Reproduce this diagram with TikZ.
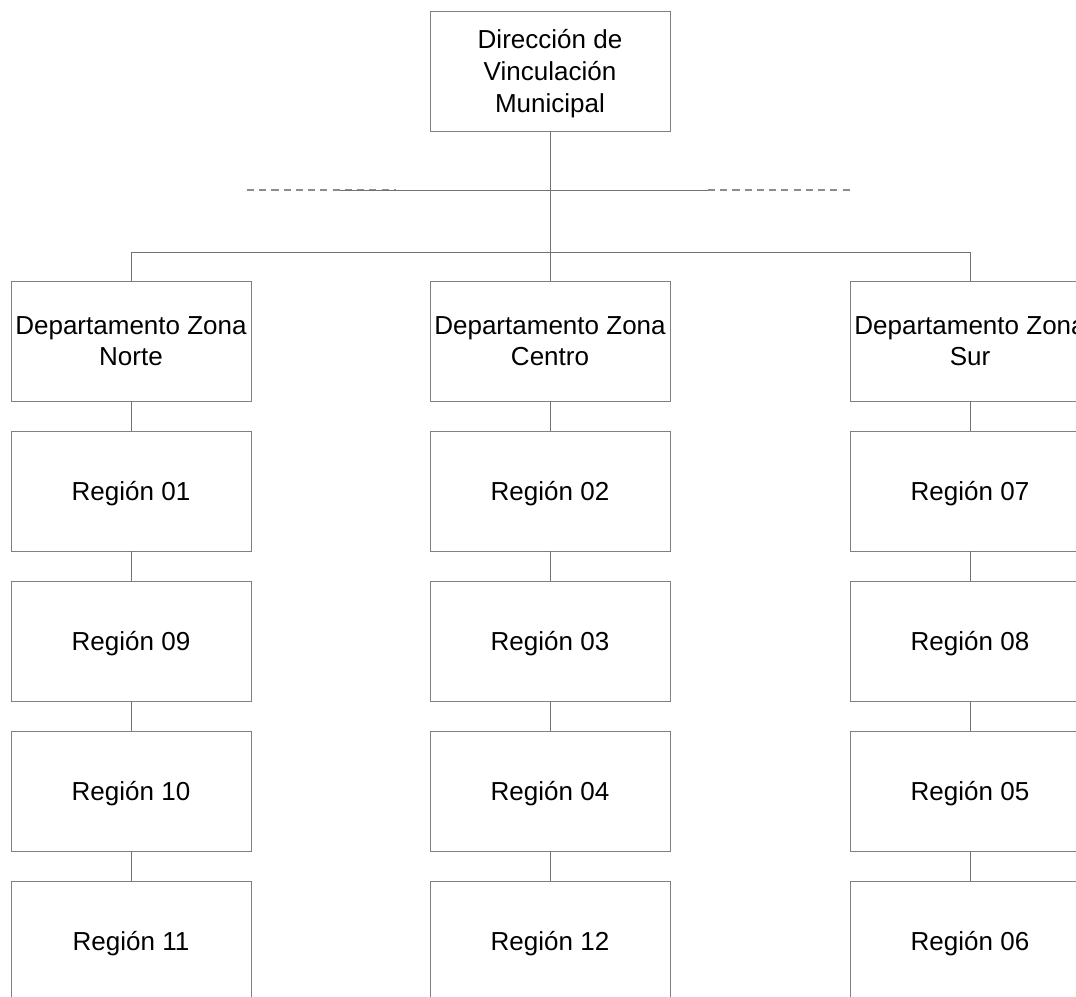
\documentclass[tikz,border=0pt]{standalone}
\usepackage{fontspec}
\setmainfont{Liberation Sans}
\begin{document}
\begin{tikzpicture}[
    x=0.025cm,y=-0.025cm,
    orgBox/.style={rectangle,draw=black!50,line width=0.6pt,minimum width=6cm,minimum height=3cm,
        inner xsep=0pt,text depth=0pt,align=center,font=\fontsize{18.5}{22.5}\selectfont},
    orgLine/.style={draw=black!55,line width=0.6pt},
    orgDash/.style={draw=black!45,line width=0.8pt,dash pattern=on 5pt off 3.7pt},
]
\useasboundingbox (0,0) rectangle (1076,996);
\clip (0,0) rectangle (1076,996);
% direccion
\node[orgBox] (dir) at (550,71) {Dirección de\\Vinculación\\Municipal};
% departamentos
\node[orgBox] (dNorte) at (131,341) {Departamento Zona\\Norte};
\node[orgBox] (dCentro) at (550,341) {Departamento Zona\\Centro};
\node[orgBox] (dSur) at (970,341) {Departamento Zona\\Sur};
% regiones
\node[orgBox] (r01) at (131,491) {Región 01};
\node[orgBox] (r09) at (131,641) {Región 09};
\node[orgBox] (r10) at (131,791) {Región 10};
\node[orgBox] (r11) at (131,941) {Región 11};
\node[orgBox] (r02) at (550,491) {Región 02};
\node[orgBox] (r03) at (550,641) {Región 03};
\node[orgBox] (r04) at (550,791) {Región 04};
\node[orgBox] (r12) at (550,941) {Región 12};
\node[orgBox] (r07) at (970,491) {Región 07};
\node[orgBox] (r08) at (970,641) {Región 08};
\node[orgBox] (r05) at (970,791) {Región 05};
\node[orgBox] (r06) at (970,941) {Región 06};
% lineas
\coordinate (bus) at (550,252);
\coordinate (asesL) at (247,190);
\coordinate (asesLs) at (396,190);
\coordinate (asesM) at (340,190);
\coordinate (asesR) at (708,190);
\coordinate (asesRe) at (853,190);
\draw[orgDash] (asesL) -- (asesLs);
\draw[orgDash] (asesR) -- (asesRe);
\draw[orgLine] (asesM) -- (asesR);
\draw[orgLine] (dir.south) -- (dCentro.north);
\draw[orgLine] (dNorte.north) |- (bus) -| (dSur.north);
\draw[orgLine] (dNorte) -- (r01) -- (r09) -- (r10) -- (r11);
\draw[orgLine] (dCentro) -- (r02) -- (r03) -- (r04) -- (r12);
\draw[orgLine] (dSur) -- (r07) -- (r08) -- (r05) -- (r06);
\end{tikzpicture}
\end{document}
